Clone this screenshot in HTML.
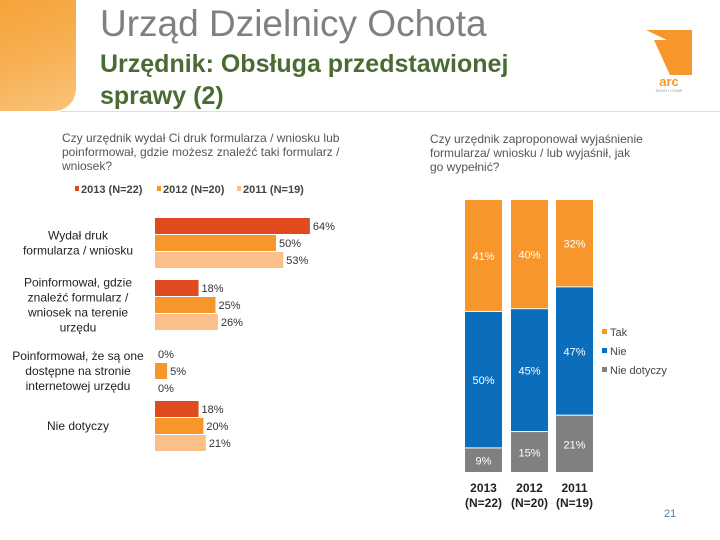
<!DOCTYPE html>
<html><head><meta charset="utf-8"><style>
body{margin:0;width:720px;height:540px;background:#fff;font-family:"Liberation Sans",sans-serif;position:relative;overflow:hidden}
.a{position:absolute}
</style></head><body>
<div class="a" style="left:0;top:0;width:76px;height:111px;background:linear-gradient(160deg,#f6a33a,#f7b052 50%,#f9c47a);border-bottom-right-radius:22px"></div>
<div class="a" style="left:60px;top:111px;width:660px;height:1px;background:#f1dcc0"></div>
<div class="a" style="left:100px;top:3px;font-size:37px;color:#808080">Urząd Dzielnicy Ochota</div>
<div class="a" style="left:100px;top:48px;font-size:25px;font-weight:bold;color:#4a6b34;line-height:32px">Urzędnik: Obsługa przedstawionej<br>sprawy (2)</div>
<svg class="a" style="left:640px;top:25px" width="60" height="70"><path d="M6 5 L52 5 L52 50 L33 50 L33 18 Z" fill="#f7962b"/><path d="M14 15 L34 15 L34 50 L30 50 Z" fill="#f7962b"/><text x="29" y="61" font-size="13" font-weight="bold" fill="#f7962b" text-anchor="middle">arc</text><text x="29" y="67" font-size="4" fill="#999" text-anchor="middle">RUSH I COMP</text></svg>
<div class="a" style="left:62px;top:131px;width:320px;font-size:12px;color:#555;line-height:14px">Czy urzędnik wydał Ci druk formularza / wniosku lub poinformował, gdzie możesz znaleźć taki formularz / wniosek?</div>
<div class="a" style="left:430px;top:132px;width:260px;font-size:12px;color:#555;line-height:14px">Czy urzędnik zaproponował wyjaśnienie<br>formularza/ wniosku / lub wyjaśnił, jak<br>go wypełnić?</div>
<svg class="a" id="hchart" style="left:0;top:180px" width="400" height="280"></svg>
<svg class="a" id="schart" style="left:440px;top:180px" width="280" height="340"></svg>
<div class="a" style="left:664px;top:508px;font-size:11px;color:#4a7fb5">21</div>
<script>
const NS="http://www.w3.org/2000/svg";
const hCats=["Wydał druk\nformularza / wniosku","Poinformował, gdzie\nznaleźć formularz /\nwniosek na terenie\nurzędu","Poinformował, że są one\ndostępne na stronie\ninternetowej urzędu","Nie dotyczy"];
const hSeries=["2013 (N=22)","2012 (N=20)","2011 (N=19)"];
const v2013=[64,18,0,18];
const v2012=[50,25,5,20];
const v2011=[53,26,0,21];
const hColors=["#e04a1f","#f7962b","#fac08a"];
const sCats=["2013\n(N=22)","2012\n(N=20)","2011\n(N=19)"];
const sSeries=["Tak","Nie","Nie dotyczy"];
const tak=[41,40,32];
const nie=[50,45,47];
const nied=[9,15,21];
const sColors=["#f7962b","#0a6ebd","#808080"];
function mk(p,t,a,txt){const e=document.createElementNS(NS,t);for(const k in a)e.setAttribute(k,a[k]);if(txt!==undefined)e.textContent=txt;p.appendChild(e);return e;}
const h=document.getElementById('hchart');
const hx=v=>155+v*2.42;
const groupTop=[38,100,166,221];
const hVals=[v2013,v2012,v2011];
hSeries.forEach((s,i)=>{
  const lx=[75,157,237][i];
  const r=mk(h,'rect',{x:lx,y:6,width:4,height:5,fill:hColors[i]});
  
  
  const t=mk(h,'text',{x:lx+6,y:13,'font-size':11,fill:'#444','font-weight':'bold'},s);
  
  
});
hCats.forEach((c,g)=>{
  const lines=c.split("\n");
  const cy=groupTop[g]+25;
  lines.forEach((ln,j)=>{
    const t=mk(h,'text',{x:78,y:cy-(lines.length-1)*7.5+j*15+4,'font-size':12,fill:'#222','text-anchor':'middle'},ln);
    
    
  });
  hVals.forEach((arr,i)=>{
    const y=groupTop[g]+i*17;
    const r=mk(h,'rect',{x:155,y:y,width:hx(arr[g])-155,height:16,fill:hColors[i]});
    
    
    const t=mk(h,'text',{x:hx(arr[g])+3,y:y+12,'font-size':11,fill:'#333'},arr[g]+'%');
    
    
  });
});
const s=document.getElementById('schart');
const top0=20,H=273;
const sy=v=>v*H/100;
const sVals=[tak,nie,nied];
const bx=[25,71,116];
sCats.forEach((c,k)=>{
  let y=top0;
  sVals.forEach((arr,i)=>{
    const hh=sy(arr[k]);
    const r=mk(s,'rect',{x:bx[k],y:y,width:37,height:hh-1,fill:sColors[i]});
    
    
    const t=mk(s,'text',{x:bx[k]+18.5,y:y+hh/2+4,'font-size':11,fill:'#fff','text-anchor':'middle'},arr[k]+'%');
    
    
    y+=hh;
  });
  c.split("\n").forEach((ln,j)=>{
    const t=mk(s,'text',{x:bx[k]+18.5,y:312+j*15,'font-size':12,'font-weight':'bold',fill:'#222','text-anchor':'middle'},ln);
    
    
  });
});
sSeries.forEach((n,i)=>{
  const r=mk(s,'rect',{x:162,y:149+i*19,width:5,height:5,fill:sColors[i]});
  
  
  const t=mk(s,'text',{x:170,y:156+i*19,'font-size':11,fill:'#444'},n);
  
  
});
</script>
</body></html>
